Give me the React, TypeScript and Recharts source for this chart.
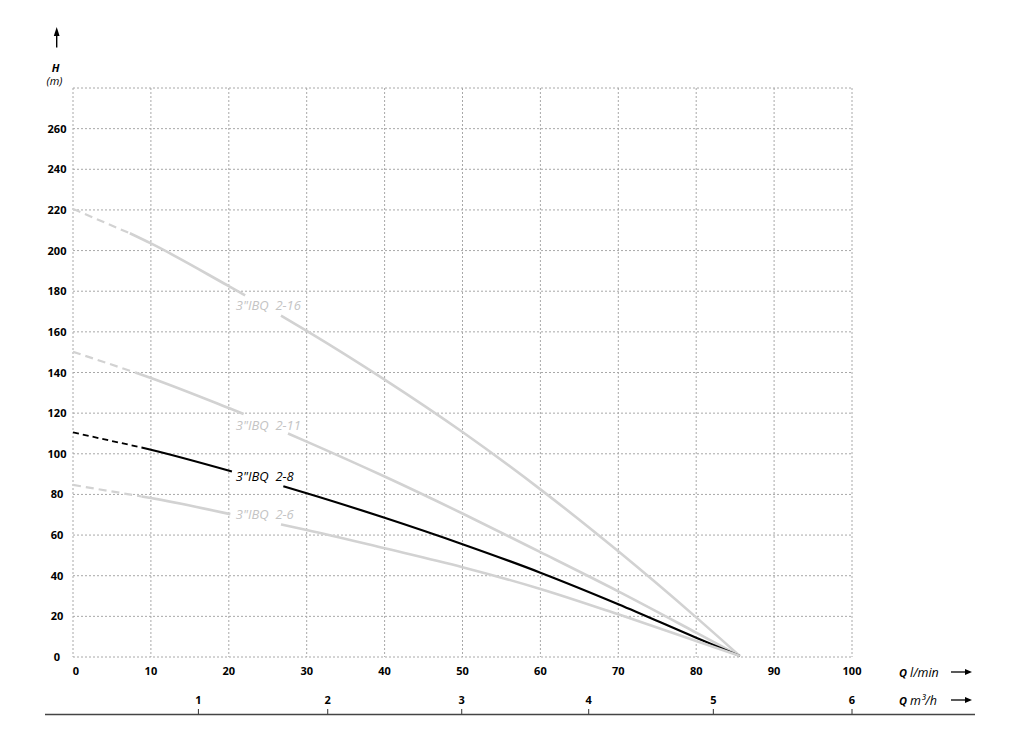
import React from 'react';
import { LineChart, Line, XAxis, YAxis, CartesianGrid, ReferenceDot } from 'recharts';

// ---- axis ticks ----
const qTicks = [0, 10, 20, 30, 40, 50, 60, 70, 80, 90, 100];
const hTicks = [0, 20, 40, 60, 80, 100, 120, 140, 160, 180, 200, 220, 240, 260];
const hGrid = [0, 20, 40, 60, 80, 100, 120, 140, 160, 180, 200, 220, 240, 260, 280];
// m3/h ticks expressed in l/min positions as printed on the chart
const m3hTickQ = [16.1, 32.7, 49.9, 66.2, 82.2, 100];
const m3hTickLabels = ['1', '2', '3', '4', '5', '6'];

// ---- curves (Q l/min, H m) ----
const curve216 = [
  { q: 0, h: 220.5 }, { q: 7.3, h: 208.5 }, { q: 10, h: 203.5 }, { q: 20, h: 182.5 }, { q: 22.1, h: 178 },
  { q: 26.7, h: 168 }, { q: 30, h: 160.5 }, { q: 40, h: 136.5 }, { q: 50, h: 110.7 }, { q: 60, h: 82.5 },
  { q: 70, h: 52 }, { q: 80, h: 19.5 }, { q: 85.6, h: 0.5 },
];
const curve211 = [
  { q: 0, h: 150.2 }, { q: 8, h: 140 }, { q: 10, h: 137.3 }, { q: 20, h: 122.5 }, { q: 21.9, h: 119.6 },
  { q: 27.6, h: 110 }, { q: 30, h: 106 }, { q: 40, h: 88.8 }, { q: 50, h: 70.6 }, { q: 60, h: 51.6 },
  { q: 70, h: 32.3 }, { q: 80, h: 12 }, { q: 85.6, h: 0.5 },
];
const curve28 = [
  { q: 0, h: 110.5 }, { q: 8.8, h: 103.1 }, { q: 10, h: 102 }, { q: 20.4, h: 91.3 },
  { q: 27, h: 84 }, { q: 30, h: 80.6 }, { q: 40, h: 68.5 }, { q: 50, h: 55.5 }, { q: 60, h: 41.5 },
  { q: 70, h: 26 }, { q: 80, h: 9.5 }, { q: 85.6, h: 0.5 },
];
const curve26 = [
  { q: 0, h: 84.7 }, { q: 8.8, h: 79 }, { q: 10, h: 78.2 }, { q: 20.2, h: 70.3 },
  { q: 26.7, h: 65.2 }, { q: 30, h: 62.5 }, { q: 40, h: 53.5 }, { q: 50, h: 44.2 }, { q: 60, h: 33.5 },
  { q: 70, h: 21 }, { q: 80, h: 7.9 }, { q: 85.6, h: 0.5 },
];

const curveNames = ['3"IBQ  2-16', '3"IBQ  2-11', '3"IBQ  2-8', '3"IBQ  2-6'];
const curveData = [curve216, curve211, curve28, curve26];
const dashEnds = [7.3, 8, 8.8, 8.8];
const gapStarts = [22.1, 21.9, 20.4, 20.2];
const gapEnds = [26.7, 27.6, 27, 26.7];
const labelQ = [20.9, 20.9, 20.9, 20.9];
const labelH = [170.9, 111.5, 86.4, 68];

const GREY = '#d2d2d2';
const LABEL_GREY = '#c4c4c4';
const curveColors = [GREY, GREY, '#000000', GREY];
const labelColors = [LABEL_GREY, LABEL_GREY, '#000000', LABEL_GREY];

const FONT = '"Open Sans", Arial, sans-serif';

const YTick = (props: any) => {
  const { x, y, payload } = props;
  return (
    <text x={x} y={y} dy={4} textAnchor="middle" fontSize={11} fontWeight={700} fontFamily={FONT} fill="#000">
      {payload.value}
    </text>
  );
};

const XTick = (props: any) => {
  const { x, y, payload } = props;
  return (
    <text x={x + (payload.value === 0 ? 3 : 0)} y={y} dy={18} textAnchor="middle" fontSize={11} fontWeight={700} fontFamily={FONT} fill="#000">
      {payload.value}
    </text>
  );
};

const M3Tick = (props: any) => {
  const { x, y, index } = props;
  return (
    <g>
      <text x={x} y={y} dy={17} textAnchor="middle" fontSize={11} fontWeight={700} fontFamily={FONT} fill="#000">
        {m3hTickLabels[index] ?? ''}
      </text>
      <line x1={x} x2={x} y1={y + 22} y2={y + 27} stroke="#333" strokeWidth={1} />
    </g>
  );
};

export default function App() {
  const lines: React.ReactNode[] = [];
  curveData.forEach((pts, i) => {
    const dashed = pts.filter((p) => p.q <= dashEnds[i]);
    const solid1 = pts.filter((p) => p.q >= dashEnds[i] && p.q <= gapStarts[i]);
    const solid2 = pts.filter((p) => p.q >= gapEnds[i]);
    const isBlack = i === 2;
    const w = isBlack ? 2.2 : 2.6;
    lines.push(
      <Line key={`d${i}`} data={dashed} dataKey="h" type="monotone" stroke={curveColors[i]} strokeWidth={isBlack ? 1.8 : 2.2}
        strokeDasharray={isBlack ? '6 4' : '8 5'} dot={false} activeDot={false} isAnimationActive={false} />,
      <Line key={`a${i}`} data={solid1} dataKey="h" type="monotone" stroke={curveColors[i]} strokeWidth={w}
        dot={false} activeDot={false} isAnimationActive={false} />,
      <Line key={`b${i}`} data={solid2} dataKey="h" type="monotone" stroke={curveColors[i]} strokeWidth={w}
        dot={false} activeDot={false} isAnimationActive={false} />
    );
  });

  return (
    <div style={{ position: 'relative', width: 1008, height: 716 }}>
      <LineChart width={1008} height={716} margin={{ top: 80, right: 164, bottom: 0, left: 15 }}>
        <CartesianGrid stroke="#a8a8a8" strokeDasharray="2 2" strokeWidth={1}
          horizontalValues={hGrid} verticalValues={qTicks} />
        <XAxis xAxisId={0} dataKey="q" type="number" domain={[0, 100]} ticks={qTicks} height={30}
          axisLine={false} tickLine={false} tickSize={0} tickMargin={0} tick={<XTick />} interval={0} allowDataOverflow />
        <XAxis xAxisId="m3" dataKey="q" type="number" domain={[0, 100]} ticks={m3hTickQ} height={37}
          axisLine={false} tickLine={false} tickSize={0} tickMargin={0} tick={<M3Tick />} interval={0} allowDataOverflow />
        <YAxis type="number" domain={[0, 280]} ticks={hTicks} width={50} axisLine={false} tickLine={false}
          tickSize={0} tickMargin={16} tick={<YTick />} interval={0} allowDataOverflow />
        {lines}
        {curveNames.map((name, i) => (
          <ReferenceDot key={`l${i}`} x={labelQ[i]} y={labelH[i]} r={0} ifOverflow="visible"
            shape={(p: any) => (
              <text x={p.cx} y={p.cy} fontSize={13} fontStyle="italic" fontFamily={FONT} fill={labelColors[i]} style={{ whiteSpace: 'pre' }}>
                {name}
              </text>
            )}
          />
        ))}
      </LineChart>
      <svg width={1008} height={716} style={{ position: 'absolute', left: 0, top: 0, pointerEvents: 'none' }}>
        <g transform="translate(-8,-8)" fontFamily={FONT}>
          {/* H axis arrow and title */}
          <line x1={56.7} x2={56.7} y1={34} y2={47.5} stroke="#000" strokeWidth={1.4} />
          <polygon points="56.7,27 53.8,36 59.6,36" fill="#000" />
          <text x={55.5} y={71.5} textAnchor="middle" fontSize={11} fontWeight={700} fontStyle="italic" fill="#000">H</text>
          <text x={54.5} y={84.5} textAnchor="middle" fontSize={11} fontStyle="italic" fill="#000">(m)</text>
          {/* Q l/min */}
          <text x={899} y={676.5} fontSize={12.5} fill="#000">
            <tspan fontWeight={700} fontStyle="italic" fontSize={11}>Q</tspan>
            <tspan fontStyle="italic" dx={3}>l/min</tspan>
          </text>
          <line x1={951} x2={967} y1={672} y2={672} stroke="#000" strokeWidth={1.3} />
          <polygon points="972,672 965,669 965,675" fill="#000" />
          {/* Q m3/h */}
          <text x={899} y={704.5} fontSize={12.5} fill="#000">
            <tspan fontWeight={700} fontStyle="italic" fontSize={11}>Q</tspan>
            <tspan fontStyle="italic" dx={3}>m³/h</tspan>
          </text>
          <line x1={951} x2={967} y1={700} y2={700} stroke="#000" strokeWidth={1.3} />
          <polygon points="972,700 965,697 965,703" fill="#000" />
          {/* bottom long axis line */}
          <line x1={45} x2={975} y1={714.5} y2={714.5} stroke="#444" strokeWidth={1.4} />
        </g>
      </svg>
    </div>
  );
}
